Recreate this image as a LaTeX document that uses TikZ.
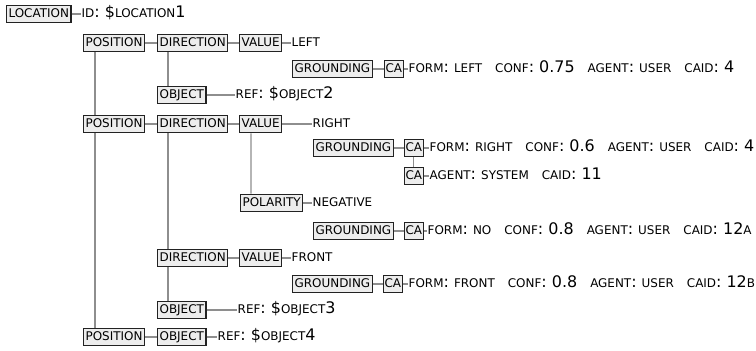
\documentclass[tikz,border=0pt]{standalone}
\usepackage{fontspec}
\setmainfont{DejaVu Sans}
\newcommand\sm[1]{{\fontsize{12}{13}\selectfont #1}}
\newcommand\gap{\hspace{13bp}}
\definecolor{boxfill}{HTML}{EDEDED}
\definecolor{boxline}{HTML}{222222}
\definecolor{linkgray}{HTML}{8E8E8E}
\begin{document}
\begin{tikzpicture}[x=1bp, y=-1bp,
    font=\fontsize{16}{18}\selectfont,
    box/.style={draw=boxline, line width=1.2bp, fill=boxfill, anchor=west,
      inner xsep=2bp, inner ysep=2.5bp, text height=10bp, text depth=2.5bp},
    cabox/.style={box, inner xsep=1bp},
    attr/.style={anchor=west, inner xsep=0.5bp, inner ysep=2.5bp,
      text height=10bp, text depth=2.5bp},
    link/.style={draw=linkgray, line width=1.1bp}]
  \useasboundingbox (0,0) rectangle (756,350);

  % top level
  \node[box] (loc) at (6,14) {\sm{LOCATION}};
  \node[attr] (locid) at (81,14) {\sm{ID}: \$\sm{LOCATION}1};

  % first position
  \node[box] (pos1) at (83,43) {\sm{POSITION}};
  \node[box] (dir1) at (157,43) {\sm{DIRECTION}};
  \node[box] (val1) at (239,43) {\sm{VALUE}};
  \node[attr] (left) at (291,43) {\sm{LEFT}};
  \node[box] (gr1) at (292,69) {\sm{GROUNDING}};
  \node[cabox] (ca1) at (384,69) {\sm{CA}};
  \node[attr] (ca1t) at (408,69) {\sm{FORM}: \sm{LEFT}\gap\sm{CONF}: 0.75\gap\sm{AGENT}: \sm{USER}\gap\sm{CAID}: 4};
  \node[box] (obj2) at (157,95) {\sm{OBJECT}};
  \node[attr] (obj2t) at (235,95) {\sm{REF}: \$\sm{OBJECT}2};

  % second position
  \node[box] (pos2) at (83,124) {\sm{POSITION}};
  \node[box] (dir2) at (157,124) {\sm{DIRECTION}};
  \node[box] (val2) at (239,124) {\sm{VALUE}};
  \node[attr] (right) at (312,124) {\sm{RIGHT}};
  \node[box] (gr2) at (313,148) {\sm{GROUNDING}};
  \node[cabox] (ca2) at (404,148) {\sm{CA}};
  \node[attr] (ca2t) at (429,148) {\sm{FORM}: \sm{RIGHT}\gap\sm{CONF}: 0.6\gap\sm{AGENT}: \sm{USER}\gap\sm{CAID}: 4};
  \node[cabox] (ca3) at (404,176) {\sm{CA}};
  \node[attr] (ca3t) at (429,176) {\sm{AGENT}: \sm{SYSTEM}\gap\sm{CAID}: 11};
  \node[box] (pol) at (240,203) {\sm{POLARITY}};
  \node[attr] (neg) at (312,203) {\sm{NEGATIVE}};
  \node[box] (gr3) at (313,231) {\sm{GROUNDING}};
  \node[cabox] (ca4) at (404,231) {\sm{CA}};
  \node[attr] (ca4t) at (427,231) {\sm{FORM}: \sm{NO}\gap\sm{CONF}: 0.8\gap\sm{AGENT}: \sm{USER}\gap\sm{CAID}: 12\sm{A}};
  \node[box] (dir3) at (157,258) {\sm{DIRECTION}};
  \node[box] (val3) at (239,258) {\sm{VALUE}};
  \node[attr] (front) at (291,258) {\sm{FRONT}};
  \node[box] (gr4) at (292,284) {\sm{GROUNDING}};
  \node[cabox] (ca5) at (383,284) {\sm{CA}};
  \node[attr] (ca5t) at (408,284) {\sm{FORM}: \sm{FRONT}\gap\sm{CONF}: 0.8\gap\sm{AGENT}: \sm{USER}\gap\sm{CAID}: 12\sm{B}};
  \node[box] (obj3) at (157,310) {\sm{OBJECT}};
  \node[attr] (obj3t) at (237,310) {\sm{REF}: \$\sm{OBJECT}3};

  % third position
  \node[box] (pos3) at (83,337) {\sm{POSITION}};
  \node[box] (obj4) at (157,337) {\sm{OBJECT}};
  \node[attr] (obj4t) at (217,337) {\sm{REF}: \$\sm{OBJECT}4};

  % horizontal links
  \draw[link] (loc) -- (locid);
  \draw[link] (pos1) -- (dir1) -- (val1) -- (left);
  \draw[link] (gr1) -- (ca1) -- (ca1t);
  \draw[link] (obj2) -- (obj2t);
  \draw[link] (pos2) -- (dir2) -- (val2) -- (right);
  \draw[link] (gr2) -- (ca2) -- (ca2t);
  \draw[link] (ca3) -- (ca3t);
  \draw[link] (pol) -- (neg);
  \draw[link] (gr3) -- (ca4) -- (ca4t);
  \draw[link] (dir3) -- (val3) -- (front);
  \draw[link] (gr4) -- (ca5) -- (ca5t);
  \draw[link] (obj3) -- (obj3t);
  \draw[link] (pos3) -- (obj4) -- (obj4t);

  % vertical links
  \draw[link] ([xshift=12bp]pos1.south west) -- ([xshift=12bp]pos2.north west);
  \draw[link] ([xshift=12bp]pos2.south west) -- ([xshift=12bp]pos3.north west);
  \draw[link] ([xshift=11bp]dir1.south west) -- ([xshift=11bp]obj2.north west);
  \draw[link] ([xshift=11bp]dir2.south west) -- ([xshift=11bp]dir3.north west);
  \draw[link] ([xshift=11bp]dir3.south west) -- ([xshift=11bp]obj3.north west);
  \draw[link] ([xshift=12bp]val2.south west) -- ([xshift=11bp]pol.north west);
  \draw[link] (ca2) -- (ca3);
\end{tikzpicture}
\end{document}
